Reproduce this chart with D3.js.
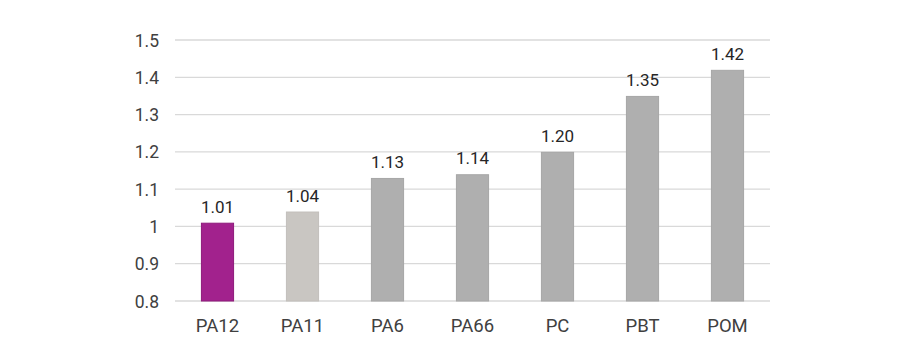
<!DOCTYPE html>
<html><head><meta charset="utf-8">
<script src="https://cdn.jsdelivr.net/npm/d3@7"></script>
<style>body{margin:0;background:#fff}svg{display:block}</style>
</head><body><svg id="c" width="900" height="360"></svg>
<script>
const categories = ["PA12","PA11","PA6","PA66","PC","PBT","POM"];
const values = [1.01,1.04,1.13,1.14,1.20,1.35,1.42];
const valueLabels = ["1.01","1.04","1.13","1.14","1.20","1.35","1.42"];
const yTicks = [0.8,0.9,1.0,1.1,1.2,1.3,1.4,1.5];
const barColors = ["#A2228D","#C9C6C2","#AFAFAF","#AFAFAF","#AFAFAF","#AFAFAF","#AFAFAF"];
const barStrokes = ["#8E1A7B","#C2BFBB","#A6A6A6","#A6A6A6","#A6A6A6","#A6A6A6","#A6A6A6"];

const svg = d3.select("#c");
const x = d3.scaleBand().domain(categories).range([175,770]).paddingInner(0.61).paddingOuter(0.305);
const y = d3.scaleLinear().domain([0.8,1.5]).range([301,40]);
const font = "Roboto, 'Noto Sans', sans-serif";

const g = svg.append("g");
g.selectAll("line.grid").data(yTicks).join("line")
  .attr("x1",175).attr("x2",770)
  .attr("y1",d=>y(d)).attr("y2",d=>y(d))
  .attr("stroke","#d9d9d9").attr("stroke-width",1.3);

const yAxis = d3.axisLeft(y).tickValues(yTicks).tickSize(0).tickPadding(0)
  .tickFormat(d=>d3.format("")(+d.toFixed(1)));
const ya = svg.append("g").attr("transform","translate(159,0)").call(yAxis);
ya.select(".domain").remove();
ya.selectAll("text").attr("font-family",font).attr("font-size",17.5).attr("fill","#404040").attr("dy","0.35em");

g.selectAll("rect.bar").data(values).join("rect")
  .attr("x",(d,i)=>x(categories[i])+0.5).attr("width",x.bandwidth()-1)
  .attr("y",d=>y(d)+0.5).attr("height",d=>y(0.8)-y(d)-0.5)
  .attr("fill",(d,i)=>barColors[i]).attr("stroke",(d,i)=>barStrokes[i]).attr("stroke-width",1);

g.selectAll("text.val").data(values).join("text")
  .attr("x",(d,i)=>x(categories[i])+x.bandwidth()/2)
  .attr("y",d=>y(d)-10)
  .attr("text-anchor","middle").attr("font-family",font).attr("font-size",17).attr("fill","#262626")
  .text((d,i)=>valueLabels[i]);

const xAxis = d3.axisBottom(x).tickSize(0).tickPadding(0);
const xa = svg.append("g").attr("transform","translate(0,301)").call(xAxis);
xa.select(".domain").remove();
xa.selectAll("text").attr("font-family",font).attr("font-size",18.5).attr("fill","#404040").attr("dy","1.7em");
</script></body></html>
